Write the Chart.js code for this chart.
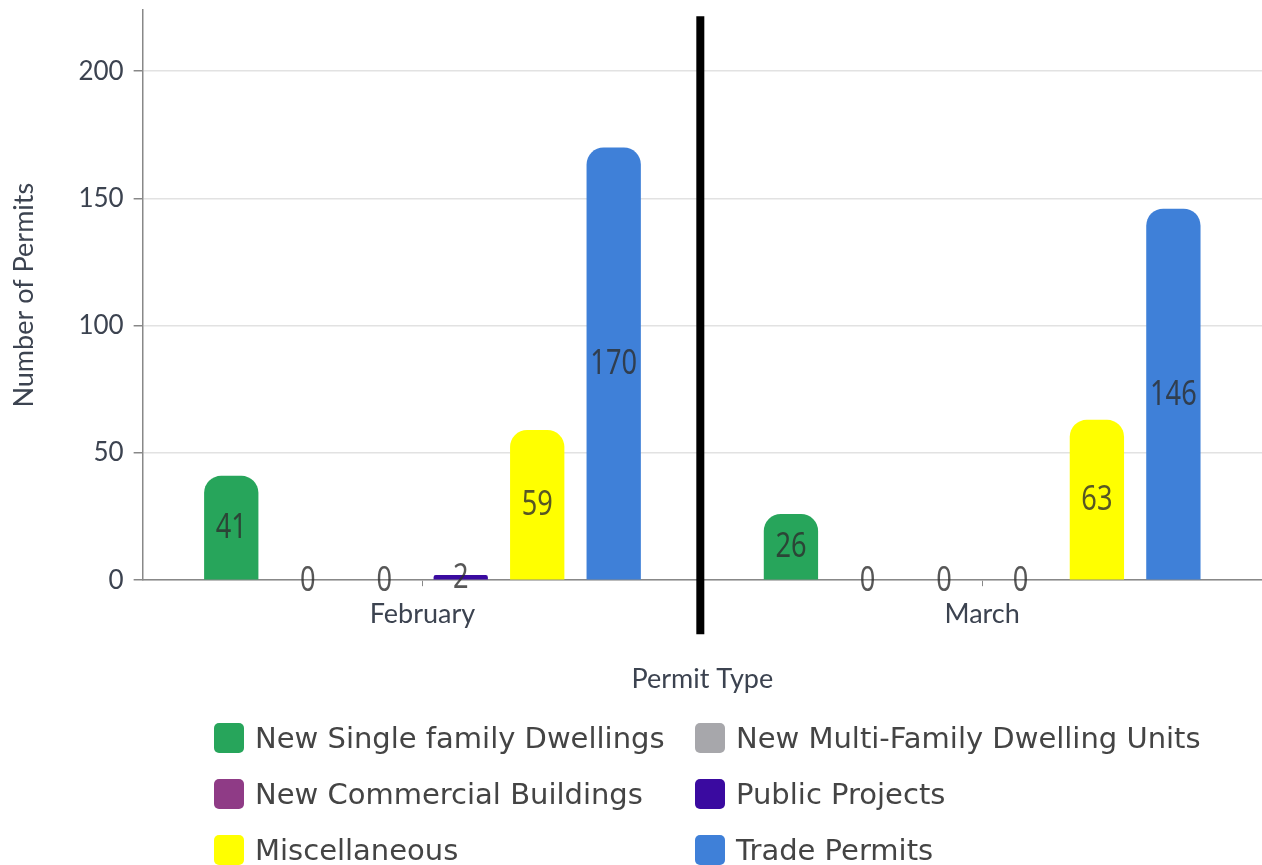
<!DOCTYPE html>
<html>
<head>
<meta charset="utf-8">
<title>Permits by type</title>
<script src="https://cdn.jsdelivr.net/npm/chart.js@4.4.0/dist/chart.umd.min.js"></script>
<style>
  html, body { margin: 0; padding: 0; background: #fff; }
  #wrap { position: relative; width: 1262px; height: 865px; overflow: hidden; }
  #chart { position: absolute; left: 0; top: 0; }
  #legend {
    position: absolute; left: 214px; top: 723px;
    display: grid; grid-template-columns: 481px auto; row-gap: 26px;
    font-family: "DejaVu Sans", sans-serif; font-size: 29px; color: #444;
  }
  .item { display: flex; align-items: center; height: 30px; white-space: nowrap; }
  .box { width: 30px; height: 30px; border-radius: 5px; margin-right: 11px; flex: none; }
</style>
</head>
<body>
<div id="wrap">
  <canvas id="chart" width="1262" height="865"></canvas>
  <div id="legend"></div>
</div>
<script>
const months = ["February", "March"];
const seriesNames = [
  "New Single family Dwellings",
  "New Multi-Family Dwelling Units",
  "New Commercial Buildings",
  "Public Projects",
  "Miscellaneous",
  "Trade Permits"
];
const singleFamily = [41, 26];
const multiFamily = [0, 0];
const commercial = [0, 0];
const publicProjects = [2, 0];
const misc = [59, 63];
const trade = [170, 146];
const seriesColors = ["#27a55b", "#a7a7ab", "#8f3b86", "#3a0aa0", "#ffff00", "#3f80d8"];
const yTicks = [0, 50, 100, 150, 200];

const seriesValues = [singleFamily, multiFamily, commercial, publicProjects, misc, trade];

// value labels in the middle of each bar (narrow, tall digits)
const barLabels = {
  id: "barLabels",
  afterDatasetsDraw(chart) {
    const ctx = chart.ctx;
    chart.data.datasets.forEach((ds, i) => {
      chart.getDatasetMeta(i).data.forEach((bar, j) => {
        const p = bar.getProps(["x", "y", "base"], true);
        ctx.save();
        ctx.translate(p.x, (p.y + p.base) / 2);
        ctx.scale(0.8, 1);
        ctx.font = "34px 'Noto Sans'";
        ctx.fillStyle = "rgba(45,45,45,0.8)";
        ctx.textAlign = "center";
        ctx.textBaseline = "middle";
        ctx.fillText(ds.data[j], 0, 1);
        ctx.restore();
      });
    });
  }
};

// thick black line between the two months
const monthDivider = {
  id: "monthDivider",
  afterDraw(chart) {
    const xs = chart.scales.x;
    const area = chart.chartArea;
    const x = (xs.getPixelForValue(0) + xs.getPixelForValue(1)) / 2 - 2;
    const ctx = chart.ctx;
    ctx.save();
    ctx.strokeStyle = "#000";
    ctx.lineWidth = 8;
    ctx.beginPath();
    ctx.moveTo(x, area.top + 6);
    ctx.lineTo(x, area.bottom + 54);
    ctx.stroke();
    ctx.restore();
  }
};

const chart = new Chart(document.getElementById("chart"), {
  type: "bar",
  data: {
    labels: months,
    datasets: seriesNames.map((name, i) => ({
      label: name,
      data: seriesValues[i],
      backgroundColor: seriesColors[i],
      borderRadius: { topLeft: 17, topRight: 17 },
      borderSkipped: "bottom",
      barPercentage: 0.71,
      categoryPercentage: 0.82
    }))
  },
  options: {
    responsive: false,
    animation: false,
    layout: { padding: { top: 10, left: 4, right: -6, bottom: 166 } },
    plugins: {
      legend: { display: false },
      tooltip: { enabled: false }
    },
    scales: {
      x: {
        grid: { offset: false, drawOnChartArea: false, drawTicks: true, tickLength: 6, tickColor: "#888" },
        border: { color: "#888", width: 1.5 },
        ticks: { color: "#3c4350", font: { family: "Lato", size: 27 }, padding: 12 },
        title: {
          display: true, text: "Permit Type", color: "#3c4350",
          font: { family: "Lato", size: 27 }, padding: { top: 20 }
        }
      },
      y: {
        min: 0, max: 224,
        afterBuildTicks(scale) { scale.ticks = yTicks.map(v => ({ value: v })); },
        grid: { color: "#e2e2e2", lineWidth: 1.5, tickLength: 9, tickColor: "#888" },
        border: { color: "#888", width: 1.5 },
        ticks: { color: "#3c4350", font: { family: "Lato", size: 26, lineHeight: 0.01 }, padding: 10 },
        title: {
          display: true, text: "Number of Permits", color: "#3c4350",
          font: { family: "Lato", size: 27 }, padding: { bottom: 28 }
        }
      }
    }
  },
  plugins: [barLabels, monthDivider]
});

const legend = document.getElementById("legend");
chart.data.datasets.forEach(ds => {
  const item = document.createElement("div");
  item.className = "item";
  item.innerHTML = '<span class="box" style="background:' + ds.backgroundColor + '"></span>' + ds.label;
  legend.appendChild(item);
});
</script>
</body>
</html>
